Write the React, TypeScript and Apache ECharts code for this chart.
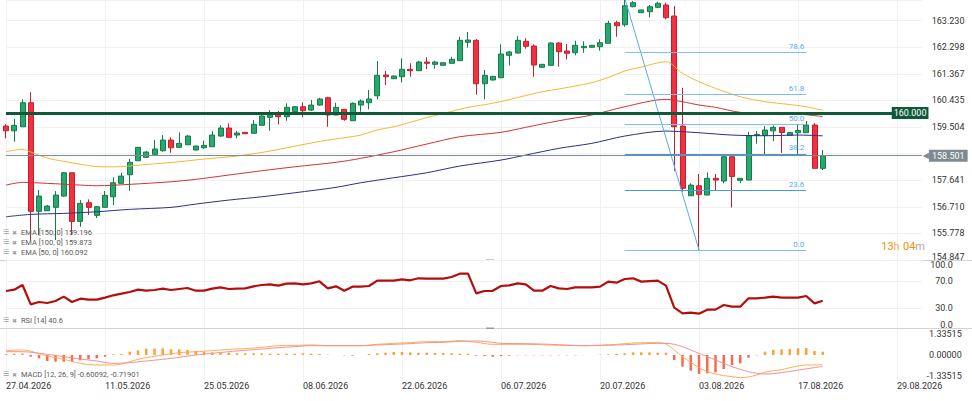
import React, { useEffect, useRef } from 'react';
import * as echarts from 'echarts';

const FONT = 'Roboto, "Noto Sans", sans-serif';

// ---- x axis ----
const TICK_LABELS = ['27.04.2026', '11.05.2026', '25.05.2026', '08.06.2026', '22.06.2026', '06.07.2026', '20.07.2026', '03.08.2026', '17.08.2026', '29.08.2026'];
const TICK_STEP = 12;
const SLOT_COUNT = 112;

// ---- candles: [open, close, low, high] ----
const CANDLES: number[][] = [
  [159.540, 159.375, 159.109, 159.610], [159.375, 159.564, 158.989, 159.785], [159.515, 160.356, 159.505, 160.475], [160.356, 156.551, 155.545, 160.721],
  [156.551, 157.087, 155.720, 157.297], [156.572, 156.736, 156.561, 156.771], [156.691, 157.122, 155.545, 157.262], [157.087, 157.903, 157.062, 157.928],
  [157.903, 156.200, 155.720, 157.903], [156.200, 156.831, 156.011, 156.946], [156.852, 156.691, 156.421, 156.971], [156.410, 156.712, 156.316, 156.736],
  [156.691, 157.111, 156.691, 157.262], [157.062, 157.553, 156.771, 157.742], [157.532, 157.787, 157.532, 157.903], [157.833, 158.268, 157.272, 158.394],
  [158.324, 158.793, 158.324, 158.804], [158.443, 158.628, 158.418, 158.663], [158.548, 158.734, 158.548, 159.049], [158.674, 159.049, 158.639, 159.224],
  [159.049, 158.779, 158.604, 159.144], [158.793, 158.933, 158.793, 159.319], [158.884, 159.189, 158.884, 159.224], [158.699, 158.839, 158.681, 158.846],
  [158.779, 158.863, 158.744, 159.025], [158.814, 159.224, 158.814, 159.364], [159.189, 159.470, 159.165, 159.564], [159.470, 159.144, 159.119, 159.634],
  [159.224, 159.294, 159.109, 159.364], [159.319, 159.270, 159.259, 159.329], [159.284, 159.599, 159.284, 159.750], [159.564, 159.890, 159.564, 159.925],
  [159.844, 159.985, 159.375, 160.100], [159.985, 159.866, 159.599, 160.065], [159.866, 160.195, 159.725, 160.335], [160.041, 160.216, 160.030, 160.241],
  [160.216, 160.076, 159.844, 160.370], [160.100, 160.275, 160.065, 160.451], [160.275, 160.486, 160.251, 160.531], [160.531, 159.925, 159.515, 160.566],
  [159.925, 160.195, 159.925, 160.356], [160.125, 159.774, 159.725, 160.125], [159.725, 160.335, 159.725, 160.370], [160.275, 160.416, 160.041, 160.475],
  [160.356, 160.486, 160.125, 160.801], [160.601, 161.316, 160.475, 161.817], [161.327, 161.267, 160.976, 161.467], [161.197, 161.292, 161.187, 161.309],
  [161.267, 161.527, 161.071, 161.912], [161.527, 161.478, 161.267, 161.737], [161.478, 161.782, 161.478, 161.828], [161.782, 161.737, 161.537, 161.947],
  [161.702, 161.782, 161.548, 161.828], [161.667, 161.758, 161.660, 161.765], [161.737, 161.877, 161.737, 161.968], [161.828, 162.543, 161.828, 162.669],
  [162.473, 162.553, 162.284, 162.834], [162.543, 161.022, 160.636, 162.588], [161.022, 161.316, 160.475, 161.502], [161.152, 161.281, 161.134, 161.292],
  [161.232, 162.063, 161.232, 162.403], [162.017, 162.133, 161.667, 162.178], [162.098, 162.543, 162.087, 162.694], [162.508, 162.333, 162.248, 162.613],
  [162.343, 161.677, 161.267, 162.403], [161.597, 161.702, 161.590, 161.712], [161.667, 162.448, 161.667, 162.473], [162.448, 162.143, 161.618, 162.473],
  [162.168, 162.087, 161.877, 162.413], [162.108, 162.368, 162.017, 162.529], [162.283, 162.333, 162.108, 162.508], [162.298, 162.368, 162.290, 162.378],
  [162.318, 162.459, 162.178, 162.578], [162.438, 163.138, 162.438, 163.230], [163.160, 163.054, 162.669, 163.230], [163.089, 163.755, 163.019, 164.020],
  [163.720, 163.860, 163.699, 163.920], [163.510, 163.605, 163.500, 163.620], [163.545, 163.720, 163.349, 163.780], [163.699, 163.839, 163.664, 163.895],
  [163.780, 163.335, 163.279, 163.860], [163.394, 159.515, 157.973, 163.745], [159.540, 157.357, 157.237, 160.882], [157.097, 157.472, 157.097, 157.532],
  [157.448, 157.146, 155.197, 157.858], [157.122, 157.707, 157.122, 157.917], [157.707, 157.647, 157.272, 157.858], [157.612, 158.464, 157.532, 158.523],
  [158.464, 157.770, 156.684, 158.523], [157.637, 157.707, 157.542, 157.707], [157.647, 159.202, 157.647, 159.340], [159.214, 159.249, 158.919, 159.364],
  [159.214, 159.400, 158.559, 159.540], [159.371, 159.494, 159.014, 159.557], [159.494, 159.312, 158.601, 159.494], [159.214, 159.312, 159.214, 159.312],
  [159.305, 159.382, 158.559, 159.575], [159.305, 159.575, 159.305, 159.715], [159.575, 158.057, 158.057, 159.645], [158.057, 158.501, 157.998, 158.699],
];

// ---- moving averages, [slot, value] ----
const EMA50: number[][] = [
  [0, 158.639], [2, 158.723], [3, 158.628], [5, 158.418], [7, 158.303], [9, 158.201], [11, 158.120], [13, 158.110], [15, 158.138],
  [17, 158.194], [20, 158.261], [24, 158.383], [28, 158.488], [32, 158.664], [36, 158.891], [39, 159.049], [41, 159.130], [43, 159.224],
  [45, 159.400], [47, 159.515], [49, 159.669], [51, 159.837], [53, 159.978], [56, 160.195], [58, 160.286], [60, 160.398], [63, 160.608],
  [65, 160.742], [67, 160.836], [69, 160.941], [71, 161.057], [73, 161.239], [75, 161.467], [77, 161.607], [80, 161.793], [82, 161.386],
  [84, 161.092], [86, 160.861], [89, 160.566], [92, 160.392], [95, 160.293], [97, 160.216], [99, 160.092],
];
const EMA100: number[][] = [
  [0, 157.472], [2, 157.567], [5, 157.532], [9, 157.472], [11, 157.448], [15, 157.497], [20, 157.588], [23, 157.672], [27, 157.823],
  [31, 157.973], [35, 158.113], [40, 158.268], [43, 158.408], [47, 158.639], [51, 158.909], [55, 159.165], [60, 159.319], [63, 159.494],
  [67, 159.725], [71, 159.925], [75, 160.216], [80, 160.475], [82, 160.391], [84, 160.276], [86, 160.195], [89, 160.020], [93, 159.985],
  [96, 159.960], [99, 159.873],
];
const EMA150: number[][] = [
  [0, 156.361], [3, 156.445], [7, 156.480], [11, 156.537], [15, 156.621], [20, 156.691], [23, 156.806], [27, 156.946], [31, 157.062],
  [35, 157.202], [40, 157.392], [43, 157.553], [47, 157.728], [51, 157.903], [55, 158.138], [60, 158.348], [63, 158.523], [67, 158.758],
  [71, 158.933], [75, 159.189], [80, 159.364], [82, 159.340], [84, 159.305], [88, 159.224], [92, 159.200], [96, 159.224], [99, 159.196],
];

// ---- levels ----
const LAST_PRICE = 158.501;
const RESISTANCE = 160.0;
const FIB_NAMES = ['0.0', '23.6', '38.2', '50.0', '61.8', '78.6'];
const FIB_PRICES = [155.197, 157.278, 158.566, 159.607, 160.647, 162.13];
const FIB_FROM_SLOT = 75;
const FIB_TO_SLOT = 97;
const SWING: number[][] = [[75, 164.02], [84, 155.197]];

// ---- RSI ----
const RSI: number[] = [
  55.2, 57.2, 64.2, 35.3, 38.8, 37.3, 40.3, 46.8, 38.8, 43.8,
  42.3, 42.3, 45.3, 48.8, 51.2, 53.7, 57.2, 55.7, 56.7, 58.7,
  56.7, 58.2, 59.7, 55.7, 55.7, 58.7, 60.7, 58.2, 58.7, 59.2,
  62.2, 64.2, 65.2, 63.2, 66.2, 66.7, 65.2, 66.7, 69.7, 59.2,
  62.2, 55.7, 61.7, 61.7, 62.7, 70.7, 70.7, 70.7, 72.7, 71.2,
  74.2, 73.7, 73.7, 73.7, 76.1, 81.1, 81.1, 51.7, 55.2, 55.5,
  62.7, 63.7, 66.7, 65.2, 55.7, 55.7, 62.7, 59.2, 58.2, 60.7,
  60.7, 60.7, 61.7, 69.2, 67.7, 73.1, 74.2, 69.2, 70.1, 70.7,
  63.2, 30.3, 21.9, 22.9, 21.4, 27.4, 27.4, 34.3, 31.8, 31.8,
  44.3, 44.3, 45.3, 46.8, 45.3, 45.3, 45.3, 47.8, 36.8, 40.6,
];

// ---- MACD ----
const MACD_HIST: number[] = [
  0.06, 0.08, 0.10, -0.10, -0.21, -0.376, -0.418, -0.418, -0.376, -0.334,
  -0.272, -0.209, -0.105, 0.04, 0.06, 0.209, 0.293, 0.397, 0.397, 0.418,
  0.355, 0.355, 0.314, 0.251, 0.209, 0.167, 0.146, 0.146, 0.105, 0.105,
  0.105, 0.105, 0.084, 0.084, 0.084, 0.084, 0.105, 0.084, 0.063, 0.02,
  0.0, -0.02, -0.04, 0.0, 0.063, 0.105, 0.146, 0.188, 0.188, 0.167,
  0.146, 0.146, 0.125, 0.125, 0.105, 0.084, 0.084, -0.04, -0.063, -0.105,
  -0.063, -0.04, -0.02, -0.02, -0.02, -0.02, -0.02, -0.02, -0.02, -0.02,
  -0.01, 0.0, 0.02, 0.04, 0.063, 0.105, 0.167, 0.167, 0.167, 0.146,
  0.146, -0.314, -0.732, -0.982, -1.19, -1.15, -1.09, -0.88, -0.627, -0.523,
  -0.167, -0.02, 0.209, 0.314, 0.355, 0.376, 0.418, 0.438, 0.251, 0.209,
];
const MACD_LINE: number[][] = [
  [0, 0.272], [2, 0.314], [5, -0.063], [7, -0.272], [9, -0.523], [11, -0.627], [13, -0.627], [14, -0.564], [15, -0.418], [16, -0.272],
  [17, -0.167], [19, 0], [21, 0.146], [23, 0.209], [25, 0.272], [27, 0.355], [29, 0.397], [31, 0.481], [33, 0.585], [35, 0.606],
  [37, 0.627], [39, 0.585], [43, 0.585], [45, 0.669], [47, 0.732], [49, 0.773], [51, 0.836], [53, 0.836], [55, 0.899], [57, 0.794],
  [59, 0.669], [63, 0.669], [66, 0.627], [70, 0.585], [74, 0.669], [76, 0.752], [79, 0.773], [80, 0.690], [81, 0.314], [82, -0.105],
  [83, -0.460], [84, -0.794], [85, -1.045], [86, -1.191], [87, -1.296], [88, -1.359], [89, -1.421], [90, -1.379], [91, -1.254],
  [92, -1.087], [93, -0.982], [94, -0.920], [95, -0.794], [96, -0.690], [97, -0.627], [98, -0.627], [99, -0.60092],
];
const MACD_SIGNAL: number[][] = [
  [0, 0.209], [2, 0.209], [5, 0.042], [7, -0.105], [9, -0.251], [11, -0.376], [13, -0.523], [15, -0.481], [17, -0.376], [19, -0.272],
  [21, -0.146], [23, 0], [25, 0.105], [27, 0.209], [29, 0.293], [31, 0.376], [33, 0.460], [35, 0.523], [37, 0.585], [43, 0.585],
  [45, 0.627], [47, 0.669], [49, 0.711], [51, 0.773], [53, 0.794], [55, 0.857], [57, 0.878], [59, 0.794], [60, 0.732], [63, 0.711],
  [66, 0.669], [70, 0.585], [74, 0.627], [76, 0.669], [79, 0.732], [80, 0.732], [81, 0.669], [82, 0.523], [83, 0.314], [84, 0.105],
  [85, -0.105], [86, -0.314], [87, -0.523], [88, -0.732], [89, -0.899], [90, -1.045], [91, -1.150], [92, -1.191], [93, -1.170],
  [94, -1.108], [95, -1.03], [96, -0.95], [97, -0.87], [98, -0.79], [99, -0.71901],
];

const PRICE_TICKS_HIDDEN = [158.5726];
const RSI_LABELS = [0, 30, 70, 100];
const RSI_LINES = [30, 70];
const MACD_LABELS = [-1.33515, 0, 1.33515];

function buildCategories(): string[] {
  const out: string[] = [];
  const d = new Date(2026, 3, 27);
  const p = (n: number) => (n < 10 ? '0' + n : '' + n);
  while (out.length < SLOT_COUNT) {
    if (d.getDay() !== 6) out.push(p(d.getDate()) + '.' + p(d.getMonth() + 1) + '.' + d.getFullYear());
    d.setDate(d.getDate() + 1);
  }
  return out;
}

const GREEN = '#26a96c';
const GREEN_EDGE = '#177a4b';
const RED = '#f2303f';
const RED_EDGE = '#c41f2d';
const FIB_COLOR = '#5aa9f2';
const GRID_COLOR = '#f0f1f1';

function buildOption(): any {
  const categories = buildCategories();
  const showTick = (i: number) => i % TICK_STEP === 0;
  const gridSide = { left: 6, right: 50.25 };

  const baseX = (gridIndex: number, withLabels: boolean) => ({
    type: 'category',
    gridIndex,
    data: categories,
    boundaryGap: false,
    axisLine: { show: false },
    axisTick: { show: false },
    splitLine: { show: true, interval: (i: number) => showTick(i), lineStyle: { color: GRID_COLOR, width: 1 } },
    axisLabel: withLabels
      ? {
          show: true,
          interval: (i: number) => showTick(i),
          formatter: (_v: string, i: number) => TICK_LABELS[Math.round(i / TICK_STEP)] || '',
          align: 'left',
          margin: 1,
          color: '#333',
          fontSize: 9,
          fontFamily: FONT,
        }
      : { show: false },
  });

  const fibLines = FIB_PRICES.map((p, k) => [
    {
      coord: [FIB_FROM_SLOT, p],
      lineStyle: { color: k === 2 || k === 1 ? '#3d9cf0' : '#7fbdf5', width: 1, type: 'solid' },
      label: { show: true, position: 'insideEndTop', formatter: FIB_NAMES[k], color: FIB_COLOR, fontSize: 8, fontFamily: FONT, distance: 2 },
    },
    { coord: [FIB_TO_SLOT, p] },
  ]);

  const emaLine = (data: number[][], color: string) => ({
    type: 'line',
    xAxisIndex: 0,
    yAxisIndex: 0,
    data,
    showSymbol: false,
    symbol: 'none',
    smooth: 0.3,
    lineStyle: { color, width: 1 },
    silent: true,
  });

  const legendRow = (y: number, text: string) => [
    { type: 'text', x: 3, y, z: 100, style: { text: '☰', fontSize: 7, fill: '#a0a0a0', fontFamily: 'DejaVu Sans', verticalAlign: 'middle' } },
    { type: 'text', x: 12, y, z: 100, style: { text: '✖', fontSize: 6, fill: '#a0a0a0', fontFamily: 'DejaVu Sans', verticalAlign: 'middle' } },
    { type: 'text', x: 21, y, z: 100, style: { text, fontSize: 7.5, fill: '#5a5a5a', fontFamily: FONT, verticalAlign: 'middle' } },
  ];

  return {
    animation: false,
    backgroundColor: '#ffffff',
    textStyle: { fontFamily: FONT },
    grid: [
      { ...gridSide, top: 0, height: 260 },
      { ...gridSide, top: 261, height: 67 },
      { ...gridSide, top: 329.5, height: 51 },
    ],
    xAxis: [baseX(0, false), baseX(1, false), baseX(2, true)],
    yAxis: [
      {
        type: 'value',
        gridIndex: 0,
        position: 'right',
        min: 154.847,
        max: 163.955,
        interval: 0.9314,
        axisLine: { show: false },
        axisTick: { show: false },
        splitLine: { show: true, lineStyle: { color: GRID_COLOR, width: 1 } },
        axisLabel: {
          showMaxLabel: false,
          margin: 10,
          align: 'left',
          color: '#333',
          fontSize: 9,
          fontFamily: FONT,
          formatter: (v: number) => {
            if (PRICE_TICKS_HIDDEN.some((h) => Math.abs(h - v) < 0.01)) return '';
            if (Math.abs(v - 154.847) < 0.001) return '{lo|' + v.toFixed(3) + '}';
            return v.toFixed(3);
          },
          rich: { lo: { fontSize: 9, color: '#333', fontFamily: FONT, padding: [0, 0, 7, 0] } },
        },
      },
      {
        type: 'value',
        gridIndex: 1,
        position: 'right',
        min: 0,
        max: 100,
        axisLine: { show: false },
        axisTick: { show: false, customValues: RSI_LINES },
        splitLine: { show: true, lineStyle: { color: GRID_COLOR, width: 1 } },
        axisLabel: {
          customValues: RSI_LABELS,
          margin: 31,
          align: 'right',
          color: '#333',
          fontSize: 9,
          fontFamily: FONT,
          formatter: (v: number) => {
            if (v === 100) return '{t|100.0}';
            if (v === 0) return '{b|0.0}';
            return v.toFixed(1);
          },
          rich: {
            t: { fontSize: 9, color: '#333', fontFamily: FONT, padding: [8, 0, 0, 0] },
            b: { fontSize: 9, color: '#333', fontFamily: FONT, padding: [0, 0, 6, 0] },
          },
        },
      },
      {
        type: 'value',
        gridIndex: 2,
        position: 'right',
        min: -1.6,
        max: 1.6,
        axisLine: { show: false },
        axisTick: { show: false, customValues: MACD_LABELS },
        splitLine: { show: false },
        axisLabel: {
          customValues: MACD_LABELS,
          margin: 40,
          align: 'right',
          color: '#333',
          fontSize: 9,
          fontFamily: FONT,
          formatter: (v: number) => v.toFixed(5),
        },
      },
    ],
    series: [
      emaLine(EMA50, '#f7b731'),
      emaLine(EMA100, '#cf3434'),
      emaLine(EMA150, '#2c2e86'),
      {
        type: 'line',
        xAxisIndex: 0,
        yAxisIndex: 0,
        data: SWING,
        showSymbol: false,
        symbol: 'none',
        clip: true,
        lineStyle: { color: FIB_COLOR, width: 1 },
        silent: true,
        z: 3,
      },
      {
        type: 'candlestick',
        xAxisIndex: 0,
        yAxisIndex: 0,
        data: CANDLES,
        barWidth: 5.5,
        clip: false,
        itemStyle: { color: GREEN, color0: RED, borderColor: GREEN_EDGE, borderColor0: RED_EDGE, borderWidth: 1 },
        markLine: {
          silent: true,
          symbol: ['none', 'none'],
          animation: false,
          data: [
            {
              yAxis: RESISTANCE,
              lineStyle: { color: '#0e5a38', width: 3, type: 'solid' },
              label: {
                show: true,
                position: 'end',
                distance: -30,
                formatter: RESISTANCE.toFixed(3),
                backgroundColor: '#0e5a38',
                color: '#ffffff',
                padding: [2, 2, 1, 2],
                fontSize: 9,
                fontFamily: FONT,
              },
            },
            {
              yAxis: LAST_PRICE,
              lineStyle: { color: '#7d8a90', width: 1, type: 'solid' },
              label: {
                show: true,
                position: 'end',
                distance: 1,
                formatter: '{a|◀}{b|' + LAST_PRICE.toFixed(3) + '}',
                rich: {
                  a: { color: '#7d8a90', fontSize: 8, fontFamily: 'DejaVu Sans' },
                  b: { backgroundColor: '#7d8a90', color: '#ffffff', fontSize: 9, fontFamily: FONT, padding: [2, 3, 1, 3] },
                },
              },
            },
            ...fibLines,
          ],
        },
      },
      {
        type: 'line',
        xAxisIndex: 1,
        yAxisIndex: 1,
        data: RSI,
        showSymbol: false,
        symbol: 'none',
        lineStyle: { color: '#b50d0d', width: 2.2 },
        silent: true,
      },
      {
        type: 'bar',
        xAxisIndex: 2,
        yAxisIndex: 2,
        data: MACD_HIST,
        barWidth: 2.5,
        silent: true,
        itemStyle: { color: (p: any) => (p.value >= 0 ? '#ffa033' : '#f26d50') },
      },
      {
        type: 'line',
        xAxisIndex: 2,
        yAxisIndex: 2,
        data: MACD_LINE,
        showSymbol: false,
        symbol: 'none',
        smooth: 0.3,
        lineStyle: { color: '#ffab57', width: 1 },
        silent: true,
      },
      {
        type: 'line',
        xAxisIndex: 2,
        yAxisIndex: 2,
        data: MACD_SIGNAL,
        showSymbol: false,
        symbol: 'none',
        smooth: 0.3,
        lineStyle: { color: '#f29191', width: 1 },
        silent: true,
      },
    ],
    graphic: [
      { type: 'line', shape: { x1: 0, y1: 260.5, x2: 972, y2: 260.5 }, style: { stroke: '#d3d3d3', lineWidth: 1 }, silent: true },
      { type: 'line', shape: { x1: 0, y1: 328.5, x2: 972, y2: 328.5 }, style: { stroke: '#d3d3d3', lineWidth: 1 }, silent: true },
      { type: 'rect', shape: { x: 486, y: 259.5, width: 8, height: 1.5 }, style: { fill: '#9a9a9a' }, silent: true },
      { type: 'rect', shape: { x: 486, y: 327.5, width: 8, height: 1.5 }, style: { fill: '#9a9a9a' }, silent: true },
      ...legendRow(232, 'EMA [150, 0] 159.196'),
      ...legendRow(242, 'EMA [100, 0] 159.873'),
      ...legendRow(252, 'EMA [50, 0] 160.092'),
      ...legendRow(320, 'RSI [14] 40.6'),
      ...legendRow(374, 'MACD [12, 26, 9] -0.60092, -0.71901'),
      {
        type: 'text',
        x: 925,
        y: 246,
        z: 100,
        style: {
          text: '{n|13}{u|h} {n|04}{m|m}',
          align: 'right',
          verticalAlign: 'middle',
          rich: {
            n: { fontSize: 11, fill: '#f39200', fontFamily: FONT },
            u: { fontSize: 11, fill: '#f6ad4a', fontFamily: FONT },
            m: { fontSize: 11, fill: '#b4a796', fontFamily: FONT },
          },
        },
        silent: true,
      },
    ],
  };
}

export default function App() {
  const ref = useRef<HTMLDivElement>(null);
  useEffect(() => {
    if (!ref.current) return;
    const chart = echarts.init(ref.current, null, { renderer: 'svg' });
    chart.setOption(buildOption());
    return () => chart.dispose();
  }, []);
  return (
    <div
      ref={ref}
      style={{ position: 'fixed', left: 0, top: 0, width: 972, height: 401, background: '#ffffff' }}
    />
  );
}
